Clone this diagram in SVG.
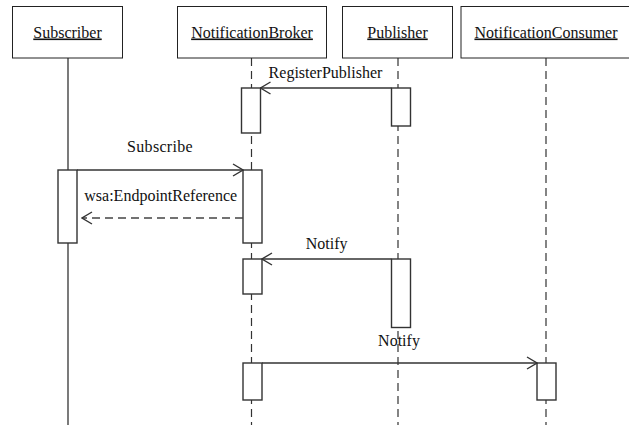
<svg xmlns="http://www.w3.org/2000/svg" width="629" height="425" viewBox="0 0 629 425">
<style>
  .hdr { fill: #fff; stroke: #222; stroke-width: 1; }
  .hdrtxt { font-family: "Liberation Serif", "Times New Roman", serif; font-size: 16px; fill: #111; text-anchor: middle; text-decoration: underline; }
  .life { stroke: #333; stroke-width: 1.2; stroke-dasharray: 8 5; fill: none; }
  .lifesolid { stroke: #222; stroke-width: 1.2; fill: none; }
  .act { fill: #fff; stroke: #333; stroke-width: 1.4; }
  .msg { stroke: #333; stroke-width: 1.3; fill: none; marker-end: url(#open); }
  .ret { stroke: #444; stroke-width: 1.3; fill: none; stroke-dasharray: 8 5; marker-end: url(#open); }
  .lbl { font-family: "Liberation Serif", "Times New Roman", serif; font-size: 16px; fill: #111; text-anchor: middle; }
</style>
<defs>
  <marker id="open" viewBox="0 0 12 14" refX="11" refY="7" markerWidth="12" markerHeight="14" markerUnits="userSpaceOnUse" orient="auto">
    <path d="M1,1 L11,7 L1,13" fill="none" stroke="#333" stroke-width="1.4"/>
  </marker>
</defs>
<rect width="629" height="425" fill="#fff"/>

<g id="lifelines">
  <line class="lifesolid" x1="68" y1="58" x2="68" y2="425"/>
  <line class="life" x1="251.5" y1="58" x2="251.5" y2="425"/>
  <line class="life" x1="398" y1="58" x2="398" y2="425"/>
  <line class="life" x1="546" y1="58" x2="546" y2="425"/>
</g>

<g id="Subscriber">
  <rect class="hdr" x="12.5" y="6.5" width="110" height="51.5"/>
  <text class="hdrtxt" x="67.5" y="37.5">Subscriber</text>
  <rect class="act" x="58" y="170" width="19" height="73"/>
</g>

<g id="NotificationBroker">
  <rect class="hdr" x="177.5" y="6.5" width="149" height="51.5"/>
  <text class="hdrtxt" x="252" y="37.5">NotificationBroker</text>
  <rect class="act" x="241.5" y="88" width="19" height="45"/>
  <rect class="act" x="243" y="170" width="19" height="73"/>
  <rect class="act" x="243" y="259" width="19" height="35"/>
  <rect class="act" x="243" y="363" width="19" height="37"/>
</g>

<g id="Publisher">
  <rect class="hdr" x="342.5" y="6.5" width="110" height="51.5"/>
  <text class="hdrtxt" x="397.5" y="37.5">Publisher</text>
  <rect class="act" x="391.5" y="88" width="19" height="38"/>
  <rect class="act" x="391.5" y="259" width="19" height="68.5"/>
</g>

<g id="NotificationConsumer">
  <rect class="hdr" x="461" y="6.5" width="172" height="51.5"/>
  <text class="hdrtxt" x="546" y="37.5">NotificationConsumer</text>
  <rect class="act" x="537" y="363" width="19" height="37"/>
</g>

<g id="connectors">
  <line class="msg" x1="391.5" y1="88" x2="260.5" y2="88"/>
  <text class="lbl" x="325.5" y="78">RegisterPublisher</text>
  <line class="msg" x1="77" y1="170" x2="243" y2="170"/>
  <text class="lbl" x="160" y="151.5" letter-spacing="0.3">Subscribe</text>
  <line class="ret" x1="243" y1="218" x2="82" y2="218"/>
  <text class="lbl" x="160.7" y="201">wsa:EndpointReference</text>
  <line class="msg" x1="391.5" y1="259" x2="262" y2="259"/>
  <text class="lbl" x="326.7" y="249">Notify</text>
  <line class="msg" x1="262" y1="363" x2="537" y2="363"/>
  <text class="lbl" x="399" y="345.5">Notify</text>
</g>
</svg>
